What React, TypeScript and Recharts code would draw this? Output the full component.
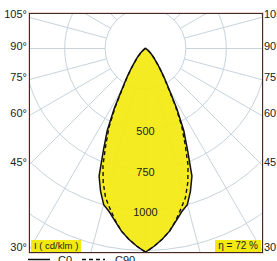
import React from "react";
import {
  RadarChart,
  Radar,
  PolarGrid,
  PolarAngleAxis,
  PolarRadiusAxis,
} from "recharts";

// gamma angle from nadir (0° = straight down), degrees
const GAMMA = [
  0, 2.5, 5, 7.5, 10, 12.5, 15, 17.5, 20, 22.5, 25, 27.5, 30, 32.5, 35, 37.5,
  40, 42.5, 45, 47.5, 50, 52.5, 55, 57.5, 60, 62.5, 65, 67.5, 70, 72.5, 75,
  77.5, 80, 82.5, 85, 87.5, 90,
];

// luminous intensity, cd/klm
const C0 = [
  1260, 1225, 1185, 1140, 1085, 1035, 1000, 925, 840, 680, 560, 420, 290, 220,
  165, 125, 95, 75, 55, 42, 30, 22, 15, 11, 8, 6, 5, 4, 3, 2, 2, 1, 1, 1, 0, 0,
  0,
];
const C90 = [
  1260, 1225, 1185, 1140, 1080, 1015, 955, 870, 770, 640, 530, 400, 280, 212,
  160, 120, 92, 72, 53, 40, 29, 21, 14, 10, 7, 5, 4, 3, 3, 2, 2, 1, 1, 1, 0, 0,
  0,
];

const RADIUS_MIN = 250;
const RADIUS_MAX = 1500;
const RADIUS_LABELS = [500, 750, 1000];
const GRID_ANGLES = [
  0, 15, 30, 45, 60, 75, 90, 105, 120, 135, 150, 165, 180, 195, 210, 225, 240,
  255, 270, 285, 300, 315, 330, 345,
];
const SIDE_LABELS = [105, 90, 75, 60, 45, 30];
const LEGEND = ["C0", "C90"];
const ETA = 72;

// full circle table, mirrored left/right
const STEP = GAMMA[1] - GAMMA[0];
const table = Array.from({ length: 360 / STEP }, (_, k) => {
  const t = k * STEP;
  const g = t <= 180 ? t : 360 - t;
  const i = GAMMA.indexOf(g);
  return { angle: t, c0: i >= 0 ? C0[i] : 0, c90: i >= 0 ? C90[i] : 0 };
});

const FONT = '"Liberation Sans", Arial, Helvetica, sans-serif';
const YELLOW = "#f3e912";
const GRID = "#c6d3dc";
const TEXT = "#222";

const FRAME = { left: 29, top: 13, width: 234, height: 240 };
const ORIGIN = { x: 145.5, y: 48.5 };
const PX_PER_CD = 0.1616;

const innerW = FRAME.width - 2;
const innerH = FRAME.height - 2;
const cx = ORIGIN.x - FRAME.left - 1;
const cy = ORIGIN.y - FRAME.top - 1;
const outerR = RADIUS_MAX * PX_PER_CD;
const innerR = RADIUS_MIN * PX_PER_CD;

const layer: React.CSSProperties = { position: "absolute", left: 0, top: 0 };
const noMargin = { top: 0, right: 0, bottom: 0, left: 0 };

const RadiusTick = (props: any) => {
  const { x, y, payload } = props;
  if (!RADIUS_LABELS.includes(payload.value)) return <g />;
  return (
    <text
      x={x}
      y={y}
      dy={6}
      textAnchor="middle"
      fontSize={11}
      fontFamily={FONT}
      fill={TEXT}
    >
      {payload.value}
    </text>
  );
};

function sideY(deg: number) {
  const r = (deg * Math.PI) / 180;
  return ORIGIN.y + ((ORIGIN.x - FRAME.left) * Math.cos(r)) / Math.sin(r);
}

export default function App() {
  return (
    <div
      style={{
        position: "absolute",
        left: 0,
        top: 0,
        width: 277,
        height: 261,
        overflow: "hidden",
        background: "#fff",
        fontFamily: FONT,
        color: TEXT,
      }}
    >
      {SIDE_LABELS.map((d) => (
        <React.Fragment key={d}>
          <div
            style={{
              position: "absolute",
              right: 277 - 27,
              top: sideY(d) - 9,
              fontSize: 11,
              lineHeight: "12px",
              whiteSpace: "nowrap",
            }}
          >
            {d}°
          </div>
          <div
            style={{
              position: "absolute",
              left: 264,
              top: sideY(d) - 9,
              fontSize: 11,
              lineHeight: "12px",
              whiteSpace: "nowrap",
            }}
          >
            {d}°
          </div>
        </React.Fragment>
      ))}

      <div
        style={{
          position: "absolute",
          left: FRAME.left,
          top: FRAME.top,
          width: FRAME.width,
          height: FRAME.height,
          boxSizing: "border-box",
          border: "1px solid #3a2c2c",
          boxShadow: "0 0 0 1px rgba(235,160,150,0.45)",
        }}
      >
        <div
          style={{
            position: "relative",
            width: innerW,
            height: innerH,
            overflow: "hidden",
          }}
        >
          {/* grid, starting at the 250 circle */}
          <div style={layer}>
            <RadarChart
              width={innerW}
              height={innerH}
              data={table}
              cx={cx}
              cy={cy}
              innerRadius={innerR}
              outerRadius={outerR}
              startAngle={-90}
              endAngle={-450}
              margin={noMargin}
            >
              <PolarGrid
                gridType="circle"
                polarAngles={GRID_ANGLES}
                stroke={GRID}
                strokeWidth={1}
              />
              <PolarAngleAxis dataKey="angle" tick={false} axisLine={false} />
              <PolarRadiusAxis
                domain={[RADIUS_MIN, RADIUS_MAX]}
                allowDataOverflow
                tickCount={6}
                axisLine={false}
                tick={false}
              />
            </RadarChart>
          </div>

          {/* curves and radius labels */}
          <div style={layer}>
            <RadarChart
              width={innerW}
              height={innerH}
              data={table}
              cx={cx}
              cy={cy}
              outerRadius={outerR}
              startAngle={-90}
              endAngle={-450}
              margin={noMargin}
            >
              <PolarAngleAxis dataKey="angle" tick={false} axisLine={false} />
              <Radar
                dataKey="c0"
                fill={YELLOW}
                fillOpacity={0.93}
                stroke="none"
                isAnimationActive={false}
              />
              <Radar
                dataKey="c90"
                fill="none"
                stroke="#111"
                strokeWidth={1.4}
                strokeDasharray="4 3"
                isAnimationActive={false}
              />
              <Radar
                dataKey="c0"
                fill="none"
                stroke="#111"
                strokeWidth={1.5}
                isAnimationActive={false}
              />
              <PolarRadiusAxis
                angle={-90}
                domain={[0, RADIUS_MAX]}
                allowDataOverflow
                tickCount={7}
                axisLine={false}
                tickLine={false}
                tick={RadiusTick}
              />
            </RadarChart>
          </div>

          <div
            style={{
              position: "absolute",
              left: 1,
              bottom: 0,
              height: 12,
              padding: "0 3px",
              background: YELLOW,
              fontSize: 9.5,
              lineHeight: "12px",
              whiteSpace: "nowrap",
            }}
          >
            I ( cd/klm )
          </div>
          <div
            style={{
              position: "absolute",
              right: 1,
              bottom: 0,
              height: 12,
              padding: "0 3px",
              background: YELLOW,
              fontSize: 10,
              lineHeight: "12px",
              whiteSpace: "nowrap",
            }}
          >
            η = {ETA} %
          </div>
        </div>
      </div>

      {/* legend, mostly cut off at the bottom edge */}
      <svg
        width={277}
        height={10}
        style={{ position: "absolute", left: 0, top: 254 }}
      >
        <line x1={28} x2={50} y1={5.5} y2={5.5} stroke="#111" strokeWidth={1.5} />
        <text x={58} y={10} fontSize={11} fontFamily={FONT} fill={TEXT}>
          {LEGEND[0]}
        </text>
        <line
          x1={82}
          x2={105}
          y1={5.5}
          y2={5.5}
          stroke="#111"
          strokeWidth={1.5}
          strokeDasharray="4 3"
        />
        <text x={115} y={10} fontSize={11} fontFamily={FONT} fill={TEXT}>
          {LEGEND[1]}
        </text>
      </svg>
    </div>
  );
}
